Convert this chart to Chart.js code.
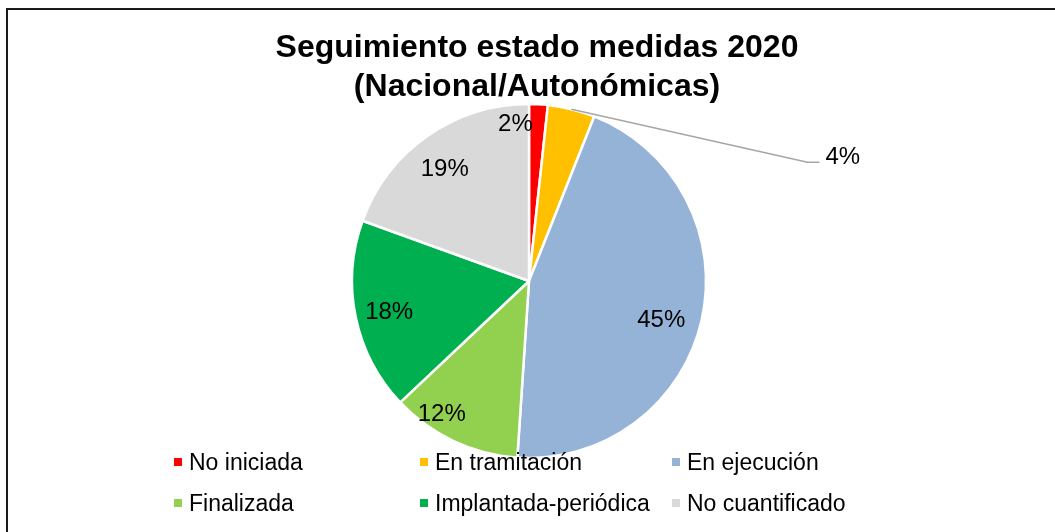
<!DOCTYPE html>
<html>
<head>
<meta charset="utf-8">
<script src="https://cdn.jsdelivr.net/npm/chart.js@4"></script>
<style>
  html, body { margin: 0; padding: 0; background: #fff; }
  #wrap { position: relative; width: 1055px; height: 532px; }
</style>
</head>
<body>
<div id="wrap"><canvas id="pieChart" width="1055" height="532"></canvas></div>
<script>
const titleLines = ['Seguimiento estado medidas 2020', '(Nacional/Autonómicas)'];
const categories = ['No iniciada', 'En tramitación', 'En ejecución', 'Finalizada', 'Implantada-periódica', 'No cuantificado'];
const shares = [1.7, 4.3, 45.0, 11.9, 17.55, 19.45];
const colors = ['#FF0000', '#FFC000', '#95B3D7', '#92D050', '#00B050', '#D9D9D9'];

const FONT = '"Liberation Sans", Arial, sans-serif';

// label placement: radius fraction and angle shift (deg), like excel best fit
const labelTweaks = [
  { r: 0.89, da: -8 },
  { leader: true },
  { r: 0.78, da: 4 },
  { r: 0.90, da: 8 },
  { r: 0.81, da: -1 },
  { r: 0.79, da: -2 }
];

function pctText(v) {
  const total = shares.reduce((a, b) => a + b, 0);
  return Math.round(v / total * 100) + '%';
}

const decorPlugin = {
  id: 'decor',
  beforeDraw(chart) {
    const ctx = chart.ctx;
    ctx.save();
    ctx.strokeStyle = '#1a1a1a';
    ctx.lineWidth = 2;
    ctx.strokeRect(7, 9, 1100, 600);
    ctx.restore();
  },
  afterDatasetsDraw(chart) {
    const ctx = chart.ctx;
    const arcs = chart.getDatasetMeta(0).data;
    ctx.save();

    // title
    ctx.fillStyle = '#000';
    ctx.font = 'bold 32px ' + FONT;
    ctx.textAlign = 'center';
    ctx.textBaseline = 'middle';
    ctx.fillText(titleLines[0], 537, 48);
    ctx.fillText(titleLines[1], 537, 87);

    // data labels
    ctx.font = '24px ' + FONT;
    arcs.forEach((arc, i) => {
      const p = arc.getProps(['x', 'y', 'startAngle', 'endAngle', 'outerRadius'], true);
      const mid = (p.startAngle + p.endAngle) / 2;
      const tw = labelTweaks[i];
      const txt = pctText(shares[i]);
      if (tw.leader) {
        const sx = p.x + Math.cos(mid) * p.outerRadius;
        const sy = p.y + Math.sin(mid) * p.outerRadius;
        const ex = sx + 236, ey = sy + 53;
        ctx.strokeStyle = '#A6A6A6';
        ctx.lineWidth = 1.5;
        ctx.beginPath();
        ctx.moveTo(sx, sy);
        ctx.lineTo(ex, ey);
        ctx.lineTo(ex + 12, ey);
        ctx.stroke();
        ctx.textAlign = 'left';
        ctx.fillText(txt, ex + 18, ey - 5);
      } else {
        const a = mid + tw.da * Math.PI / 180;
        ctx.textAlign = 'center';
        ctx.fillText(txt, p.x + Math.cos(a) * p.outerRadius * tw.r, p.y + Math.sin(a) * p.outerRadius * tw.r);
      }
    });

    // legend, 3 columns x 2 rows
    const colX = [178, 424, 676];
    const rowY = [462, 503];
    ctx.font = '23px ' + FONT;
    ctx.textAlign = 'left';
    chart.data.labels.forEach((lab, i) => {
      const x = colX[i % 3], y = rowY[Math.floor(i / 3)];
      ctx.fillStyle = colors[i];
      ctx.fillRect(x - 4, y - 4, 8, 8);
      ctx.fillStyle = '#000';
      ctx.fillText(lab, x + 11, y + 2);
    });
    ctx.restore();
  }
};

window.onload = function() {
  const ctx = document.getElementById('pieChart').getContext('2d');
  new Chart(ctx, {
    type: 'pie',
    data: {
      labels: categories,
      datasets: [{
        data: shares,
        backgroundColor: colors,
        borderColor: '#ffffff',
        borderWidth: 2.5
      }]
    },
    options: {
      responsive: false,
      animation: false,
      radius: 177,
      layout: { padding: { left: 353, right: 350, top: 105, bottom: 75 } },
      plugins: {
        legend: { display: false },
        title: { display: false },
        tooltip: { enabled: false }
      }
    },
    plugins: [decorPlugin]
  });
};
</script>
</body>
</html>
